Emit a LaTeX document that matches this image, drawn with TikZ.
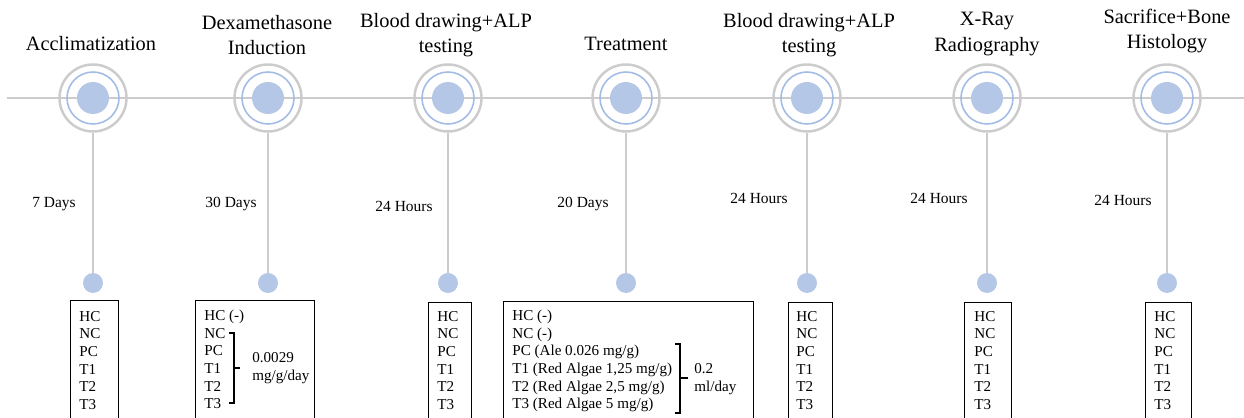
\documentclass[tikz,border=0pt]{standalone}
\usepackage{fontspec}
\setmainfont{Liberation Serif}
\definecolor{linegray}{HTML}{CCCCCC}
\definecolor{dotblue}{HTML}{B4C7E7}
\definecolor{bandblue}{HTML}{A3BCE6}
\tikzset{
  halo/.style={circle, draw=linegray, line width=1.4pt, minimum size=1.34cm, inner sep=0pt},
  band/.style={circle, draw=bandblue, line width=0.9pt, minimum size=1.04cm, inner sep=0pt},
  core/.style={circle, fill=dotblue, minimum size=0.64cm, inner sep=0pt},
  enddot/.style={circle, fill=dotblue, minimum size=0.4cm, inner sep=0pt},
  stem/.style={draw=linegray, line width=1.1pt},
  stagetitle/.style={align=center, inner sep=0pt, font=\fontsize{11.6}{14.4}\selectfont},
  gap/.style={inner sep=0pt, font=\fontsize{8.8}{10}\selectfont},
  groupbox/.style={draw, line width=0.7pt, anchor=north west, minimum height=3cm, inner sep=0pt},
  grouplist/.style={align=left, anchor=north west, inner sep=0pt, font=\fontsize{8.6}{10}\selectfont},
  dose/.style={align=left, anchor=west, inner sep=0pt, font=\fontsize{8.6}{10.5}\selectfont},
  brace/.style={line width=0.6pt}
}
\begin{document}
\begin{tikzpicture}[x=0.02cm, y=-0.02cm]
\useasboundingbox (0,0) rectangle (1244,418);
\clip (0,0) rectangle (1244,418);

% timeline
\coordinate (tlstart) at (7,98);
\coordinate (tlend) at (1244,98);
\draw[stem] (tlstart) -- (tlend);

% stages
\foreach \x [count=\i] in {93,268,448,626,807,987,1167} {
  \node[halo] (halo\i) at (\x,98) {};
  \node[band] (band\i) at (\x,98) {};
  \node[core] (core\i) at (\x,98) {};
  \node[enddot] (tip\i) at (\x,283) {};
  \draw[stem] (halo\i) -- (tip\i);
}

% titles
\foreach \x/\t/\y [count=\i] in {91/{Acclimatization}/44, 267/{Dexamethasone\\Induction}/35,
    446/{Blood drawing+ALP\\testing}/35, 626/{Treatment}/44, 809/{Blood drawing+ALP\\testing}/35,
    987/{X-Ray\\Radiography}/34, 1167/{Sacrifice+Bone\\Histology}/31}
  \node[stagetitle] (title\i) at (\x,\y) {\t};

% durations
\foreach \x/\t/\y [count=\i] in {54/7 Days/204, 231/30 Days/204, 404/24 Hours/206, 583/20 Days/204,
    759/24 Hours/198, 939/24 Hours/198, 1123/24 Hours/200}
  \node[gap] (gap\i) at (\x,\y) {\t};

% groups
\node[groupbox, minimum width=0.96cm] (box1) at (70,300) {};
\node[grouplist] (list1) at (79,311) {HC\\NC\\PC\\T1\\T2\\T3};

\node[groupbox, minimum width=2.38cm] (box2) at (195,300) {};
\node[grouplist] (list2) at (204,310) {HC (-)\\NC\\PC\\T1\\T2\\T3};
\draw[brace] (229,333) -- (234,333) -- (234,403) -- (229,403);
\draw[brace] (234,368) -- (240,368);
\node[dose] (dose2) at (252,368) {0.0029\\mg/g/day};

\node[groupbox, minimum width=0.86cm] (box3) at (428,302) {};
\node[grouplist] (list3) at (437,311) {HC\\NC\\PC\\T1\\T2\\T3};

\node[groupbox, minimum width=5.0cm] (box4) at (503,301) {};
\node[grouplist] (list4) at (512,310) {HC (-)\\NC (-)\\PC (Ale 0.026 mg/g)\\T1 (Red Algae 1,25 mg/g)\\T2 (Red Algae 2,5 mg/g)\\T3 (Red Algae 5 mg/g)};
\draw[brace] (675,344) -- (680,344) -- (680,413) -- (675,413);
\draw[brace] (680,378) -- (688,378);
\node[dose] (dose4) at (694,379) {0.2\\ml/day};

\node[groupbox, minimum width=0.88cm] (box5) at (788,302) {};
\node[grouplist] (list5) at (796,311) {HC\\NC\\PC\\T1\\T2\\T3};

\node[groupbox, minimum width=0.94cm] (box6) at (964,302) {};
\node[grouplist] (list6) at (974,311) {HC\\NC\\PC\\T1\\T2\\T3};

\node[groupbox, minimum width=0.92cm] (box7) at (1145,302) {};
\node[grouplist] (list7) at (1154,311) {HC\\NC\\PC\\T1\\T2\\T3};

\end{tikzpicture}
\end{document}
